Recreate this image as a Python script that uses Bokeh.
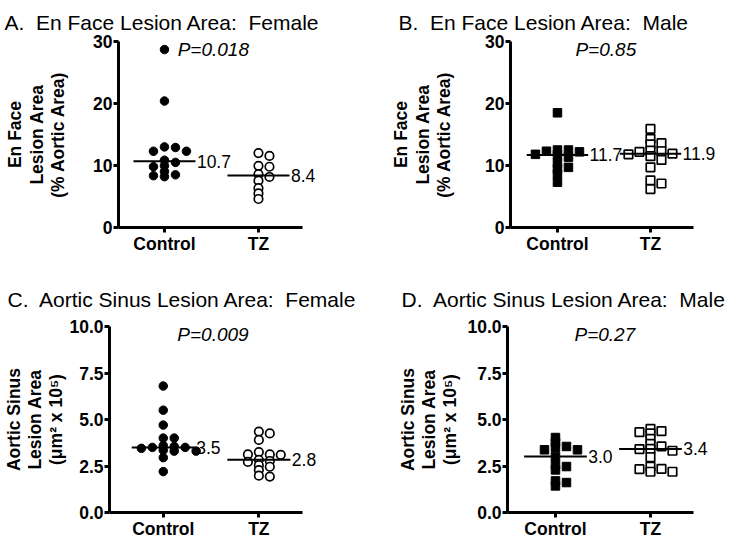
import numpy as np
from bokeh.plotting import figure
from bokeh.models import FixedTicker
from bokeh.layouts import column, row
from bokeh.core.properties import value
from bokeh.embed import file_html
from bokeh.resources import INLINE

# ---------------- data ----------------
group_ticks = [1, 2]
group_labels = ["Control", "TZ"]

a_control = [28.7, 20.4, 13.0, 12.9, 12.3, 12.3, 10.85, 10.5, 9.95, 9.8, 9.05, 8.5, 8.35, 8.2]
a_tz = [12.0, 11.55, 9.95, 9.8, 8.6, 8.15, 7.55, 6.35, 5.5, 4.6]

b_control = [18.5, 12.5, 12.5, 12.3, 12.2, 11.8, 11.7, 11.35, 10.4, 9.7, 9.45, 8.6, 7.3]
b_tz = [15.9, 14.3, 13.6, 13.4, 12.4, 12.3, 12.2, 11.9, 11.8, 11.5, 10.9, 9.7, 7.6, 7.1, 6.2]

c_control = [6.8, 5.5, 4.7, 4.0, 4.0, 3.6, 3.55, 3.5, 3.5, 3.45, 3.35, 3.3, 3.3, 2.95, 2.2]
c_tz = [4.35, 4.25, 3.9, 3.25, 3.12, 3.12, 3.1, 2.83, 2.77, 2.72, 2.54, 2.46, 2.28, 1.98, 1.93]

d_control = [4.03, 3.78, 3.55, 3.51, 3.37, 3.37, 3.01, 2.56, 2.47, 2.29, 1.70, 1.61, 1.43]
d_tz = [4.5, 4.38, 4.25, 4.32, 3.96, 3.69, 3.55, 3.42, 3.41, 3.32, 2.97, 2.47, 2.35, 2.33, 2.19, 2.19]

en_face_ticks = [0, 10, 20, 30]
en_face_tick_labels = ["0", "10", "20", "30"]
sinus_ticks = [0, 2.5, 5, 7.5, 10]
sinus_tick_labels = ["0.0", "2.5", "5.0", "7.5", "10.0"]

titles = ["A.\u00a0 En Face Lesion Area:\u00a0 Female",
          "B.\u00a0 En Face Lesion Area:\u00a0 Male",
          "C.\u00a0 Aortic Sinus Lesion Area:\u00a0 Female",
          "D.\u00a0 Aortic Sinus Lesion Area:\u00a0 Male"]
p_values = ["P=0.018", "P=0.85", "P=0.009", "P=0.27"]
en_face_ylabel = "En Face\nLesion Area\n(% Aortic Area)"
sinus_ylabel = "Aortic Sinus\nLesion Area\n(\u03bcm\u00b2 x 10\u2075)"

FONT = "Liberation Sans"


def swarm(vals, center, ppx, ppy, step_px=11.0, dist_px=9.5, yk=2.1):
    vals = np.asarray(vals, dtype=float)
    order = np.argsort(-vals, kind="stable")
    placed = []
    xs = np.zeros(len(vals))
    ks = [0]
    for k in range(1, 20):
        ks += [k, -k]
    for i in order:
        ypx = vals[i] * ppy
        xpx = 0.0
        for k in ks:
            xpx = k * step_px
            if all((xpx - a) ** 2 + (yk * (ypx - b)) ** 2 >= dist_px ** 2 for a, b in placed):
                break
        placed.append((xpx, ypx))
        xs[i] = center + xpx / ppx
    return list(xs)


def panel(geom, ymax, yticks, ytick_labels, ylabel, ylabel_standoff,
          ctrl, tz, marker, title, ptext):
    W, H, mbl, mbr, mbt, mbb, x0, ppx, axis_px, title_dx, title_standoff = geom
    fw = W - mbl - mbr
    fh = H - mbt - mbb
    x1 = x0 + fw / ppx
    p = figure(width=W, height=H, x_range=(x0, x1), y_range=(0, ymax),
               output_backend="svg", toolbar_location=None,
               min_border_left=mbl, min_border_right=mbr,
               min_border_top=mbt, min_border_bottom=mbb)
    p.outline_line_color = None
    p.grid.visible = False
    p.background_fill_color = "white"
    p.border_fill_color = "white"
    ppy = fh / ymax

    p.xaxis.ticker = FixedTicker(ticks=group_ticks)
    p.xaxis.major_label_overrides = dict(zip(group_ticks, group_labels))
    p.xaxis.bounds = (x0, x0 + axis_px / ppx)
    p.yaxis.ticker = FixedTicker(ticks=yticks)
    p.yaxis.major_label_overrides = dict(zip(yticks, ytick_labels))
    p.yaxis.bounds = (0, ymax)
    for ax in (p.xaxis[0], p.yaxis[0]):
        ax.axis_line_width = 3
        ax.axis_line_color = "black"
        ax.major_tick_line_width = 3
        ax.major_tick_line_color = "black"
        ax.major_tick_out = 5
        ax.major_tick_in = 0
        ax.minor_tick_line_color = None
        ax.major_label_text_font = FONT
        ax.major_label_text_font_style = "bold"
        ax.major_label_text_font_size = "17.5px"
        ax.major_label_text_color = "black"
    p.xaxis.major_label_standoff = 1
    p.yaxis.major_label_standoff = 1
    p.yaxis.axis_label = ylabel
    p.yaxis.axis_label_text_font = FONT
    p.yaxis.axis_label_text_font_style = "bold"
    p.yaxis.axis_label_text_font_size = "17.5px"
    p.yaxis.axis_label_text_line_height = 1.07
    p.yaxis.axis_label_text_color = "black"
    p.yaxis.axis_label_standoff = ylabel_standoff

    for center, vals, filled in ((1, ctrl, True), (2, tz, False)):
        xs = swarm(vals, center, ppx, ppy)
        if filled:
            p.scatter(xs, vals, marker=marker, size=8.5, fill_color="black",
                      line_color="black", line_width=1)
        else:
            p.scatter(xs, vals, marker=marker, size=8.5, fill_color="white",
                      line_color="black", line_width=1.7)
        med = float(np.median(vals))
        p.segment(x0=[center - 0.33], y0=[med], x1=[center + 0.33], y1=[med],
                  line_width=2, line_color="black")
        p.text(x=[center + 0.345], y=[med], text=[f"{med:.1f}"],
               text_font=value(FONT), text_font_size="17.5px",
               text_align="left", text_baseline="middle", text_color="black")

    p.text(x=[1.52], y=[0.958 * ymax], text=[ptext], text_font=value(FONT),
           text_font_style="italic", text_font_size="19px",
           text_align="center", text_baseline="middle", text_color="black")

    p.title.text = title
    p.title.align = "left"
    p.title.offset = title_dx
    p.title.standoff = title_standoff
    p.title.text_font = FONT
    p.title.text_font_style = "normal"
    p.title.text_font_size = "21px"
    p.title.text_color = "black"
    return p


#          W    H   mbl  mbr mbt mbb  x0     ppx  axis_px title_dx standoff
geom_a = (360, 270, 118, 20, 40, 43, 0.511, 94.0, 184, -114, 16)
geom_b = (369, 270, 150, 14, 40, 43, 0.495, 93.0, 183, -112, 16)
geom_c = (360, 271, 108, 20, 55, 28, 0.4375, 96.0, 194, -102, 31)
geom_d = (369, 271, 147, 14, 56, 28, 0.495, 95.0, 186, -106, 31)

pa = panel(geom_a, 30, en_face_ticks, en_face_tick_labels, en_face_ylabel, 22,
           a_control, a_tz, "circle", titles[0], p_values[0])
pb = panel(geom_b, 30, en_face_ticks, en_face_tick_labels, en_face_ylabel, 28,
           b_control, b_tz, "square", titles[1], p_values[1])
pc = panel(geom_c, 10, sinus_ticks, sinus_tick_labels, sinus_ylabel, 0,
           c_control, c_tz, "circle", titles[2], p_values[2])
pd = panel(geom_d, 10, sinus_ticks, sinus_tick_labels, sinus_ylabel, 4,
           d_control, d_tz, "square", titles[3], p_values[3])

layout = column(row(pa, pb), row(pc, pd))
open("out.html", "w").write(file_html(layout, INLINE))
